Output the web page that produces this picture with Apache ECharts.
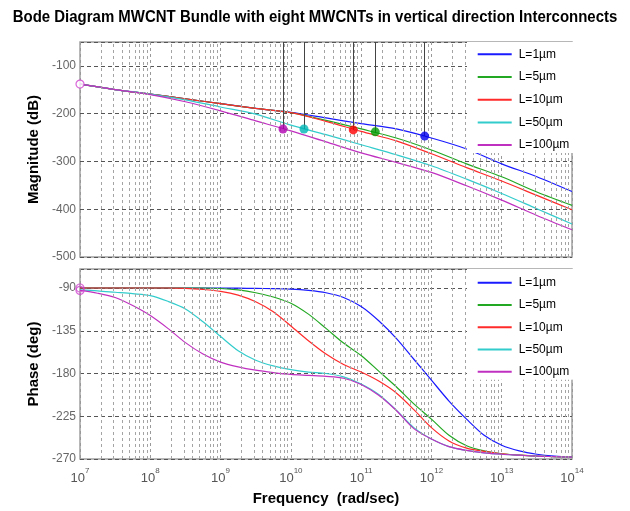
<!DOCTYPE html>
<html><head><meta charset="utf-8">
<script src="https://cdn.jsdelivr.net/npm/echarts@6.0.0/dist/echarts.min.js"></script>
<style>html,body{margin:0;padding:0;background:#fff}#c{width:630px;height:511px}</style>
</head><body><div id="c"></div>
<script>
const titleText = 'Bode Diagram MWCNT Bundle with eight MWCNTs in vertical direction Interconnects';
const seriesNames = ['L=1\u00b5m','L=5\u00b5m','L=10\u00b5m','L=50\u00b5m','L=100\u00b5m'];
const lineColors = ['#1a1aff','#22a822','#ff2a2a','#33cccc','#c030c0'];
const markerColors = ['#0000ee','#009900','#ff0000','#00b5b5','#b000b0'];

// log10(frequency) sample positions
const magFreqExp = [7,7.5,8,8.5,9,9.5,10,10.5,11,11.5,12,12.5,13,13.5,14];
const magL1   = [-138,-149.5,-159,-169,-179,-189,-197,-209,-221,-232,-251,-274,-305,-332,-363];
const magL5   = [-138,-149.5,-159,-169,-179,-189,-198,-214,-232,-251,-276,-305,-332,-364,-392];
const magL10  = [-138,-149.5,-159,-169,-179,-189,-198,-216,-237,-257,-284,-313,-341,-371,-401];
const magL50  = [-138,-149.5,-159,-171,-186,-201,-224,-244,-265,-286,-309,-337,-367,-399,-431];
const magL100 = [-138,-149.5,-160,-175,-194,-215,-236,-259,-282,-302,-323,-351,-381,-413,-443];

const phaseFreqExp = [7,7.25,7.5,7.75,8,8.25,8.5,8.75,9,9.25,9.5,9.75,10,10.25,10.5,10.75,11,11.25,11.5,11.75,12,12.25,12.5,12.75,13,13.25,13.5,13.75,14];
const phaseL1   = [-90,-90,-90,-90,-90,-90,-90,-90,-90,-90.2,-90.4,-90.7,-91.2,-92.5,-95,-100,-109.5,-124.5,-143,-165,-187,-209,-228,-245,-255.5,-261.5,-265,-267,-268];
const phaseL5   = [-90,-90,-90,-90,-90,-90,-90,-90,-90.5,-92,-95,-99.5,-106,-117.5,-132.5,-148,-161,-177.5,-194,-212,-228,-245,-256,-261.5,-264.5,-266,-267,-267.5,-268];
const phaseL10  = [-90,-90,-90,-90,-90,-90,-90.3,-91.5,-93.5,-97.5,-104.5,-115,-130,-145.5,-159.5,-170.5,-178.5,-188,-200.5,-218,-237,-251,-258.5,-262,-264.5,-266,-267,-267.5,-268];
const phaseL50  = [-92,-93,-94.5,-96,-98,-104,-112,-125.5,-141,-156,-166,-172,-176,-178.5,-180,-183.5,-191,-202,-218.5,-237,-249,-257,-261,-263.5,-265,-266,-267,-267.5,-268];
const phaseL100 = [-92.5,-95.5,-100,-108.5,-119,-132.5,-147.5,-159.5,-168,-173,-176.5,-179,-181,-182,-183,-185,-191.5,-203,-219,-238,-249,-257,-261,-263.5,-265,-266,-267,-267.5,-268];

// characteristic points (filled markers) per series
const markerFreqExp = [11.904, 11.201, 10.888, 10.187, 9.888];
const markerMag = [-247, -238, -234, -232, -232];
// open circles at start
const startFreqExp = 7;
const startMag = -138;
const startPhase = [-90, -92.5];

const magRange = [-500, -50];
const phaseRange = [-270, -70];
const freqRange = [7, 14];

const magData = [magL1, magL5, magL10, magL50, magL100];
const phaseData = [phaseL1, phaseL5, phaseL10, phaseL50, phaseL100];

const chart = echarts.init(document.getElementById('c'), null, {renderer:'canvas'});

const minorPos = [];
for (let n = freqRange[0]; n < freqRange[1]; n++) for (let k = 2; k <= 9; k++) minorPos.push(n + Math.log10(k));

const SANS = "'Liberation Sans',Arial,sans-serif";

function xAxisCfg(idx, showLabels) {
  return {
    type:'value', gridIndex: idx, min: freqRange[0], max: freqRange[1], interval: 1,
    axisLine:{show:false}, axisTick:{show:false},
    splitLine:{show:true, lineStyle:{color:'#999', width:1, type:[3,3]}},
    axisLabel: showLabels ? {
      show:true, margin: 8,
      formatter: v => Number.isInteger(v) ? '{b|10}{e|' + v + '}' : '',
      rich: {
        b:{fontFamily:SANS, fontSize:13, color:'#555', lineHeight:18, verticalAlign:'bottom'},
        e:{fontFamily:SANS, fontSize:8, color:'#555', lineHeight:10, verticalAlign:'top'}
      }
    } : {show:false},
    name: showLabels ? 'Frequency  (rad/sec)' : '',
    nameLocation:'middle', nameGap: 32,
    nameTextStyle:{fontFamily:SANS, fontWeight:'bold', fontSize:15, color:'#000'}
  };
}
function yAxisCfg(idx, range, interval, name, step) {
  return {
    type:'value', gridIndex: idx, min: range[0], max: range[1], interval: interval,
    axisLine:{show:false}, axisTick:{show:false},
    splitLine:{show:true, lineStyle:{color:'#555', width:1, type:[4,3]}},
    axisLabel:{show:true, margin:4, fontFamily:SANS, fontSize:12, color:'#666',
      formatter: v => (v % step === 0 ? String(v) : '')},
    name: name, nameLocation:'middle', nameGap: 32,
    nameTextStyle:{fontFamily:SANS, fontWeight:'bold', fontSize:15, color:'#000'}
  };
}

const series = [];
// minor grid line carriers
[0,1].forEach(g => {
  series.push({
    type:'line', xAxisIndex:g, yAxisIndex:g, data:[], z:1, silent:true,
    markLine:{silent:true, symbol:'none', animation:false, label:{show:false},
      lineStyle:{color:'#a4a4a4', width:1, type:[3,3]},
      data: minorPos.map(p => ({xAxis:p}))}
  });
});
for (let i = 0; i < 5; i++) {
  series.push({
    type:'line', name: seriesNames[i], xAxisIndex:0, yAxisIndex:0,
    data: magFreqExp.map((x,j) => [x, magData[i][j]]),
    symbol:'none', showSymbol:false, smooth:0.3, z:3,
    lineStyle:{color: lineColors[i], width:1.2}, itemStyle:{color: lineColors[i]}
  });
}
for (let i = 0; i < 5; i++) {
  series.push({
    type:'line', name: seriesNames[i], xAxisIndex:1, yAxisIndex:1,
    data: phaseFreqExp.map((x,j) => [x, phaseData[i][j]]),
    symbol:'none', showSymbol:false, smooth:0.3, z:3,
    lineStyle:{color: lineColors[i], width:1.2}, itemStyle:{color: lineColors[i]}
  });
}
// filled markers with vertical lines to the top
series.push({
  type:'scatter', name:'peaks', xAxisIndex:0, yAxisIndex:0, z:6,
  symbol:'circle', symbolSize:9,
  data: markerFreqExp.map((x,i) => ({value:[x, markerMag[i]], itemStyle:{color: markerColors[i]}})),
  markLine:{silent:true, symbol:'none', animation:false, label:{show:false},
    lineStyle:{color:'#444', width:1, type:'solid'},
    data: markerFreqExp.map((x,i) => [{coord:[x, markerMag[i]]}, {coord:[x, magRange[1]]}])}
});
// open circles at start
series.push({
  type:'scatter', name:'startMag', xAxisIndex:0, yAxisIndex:0, z:6, clip:false,
  symbol:'circle', symbolSize:8,
  data:[[startFreqExp, startMag]],
  itemStyle:{color:'#fff', borderColor:'#d040d0', borderWidth:1.2}
});
series.push({
  type:'scatter', name:'startPhase', xAxisIndex:1, yAxisIndex:1, z:6, clip:false,
  symbol:'circle', symbolSize:8,
  data: startPhase.map(p => [startFreqExp, p]),
  itemStyle:{color:'rgba(255,255,255,0)', borderColor:'#d040d0', borderWidth:1.2}
});

function legendCfg(top, gap, padTop) {
  return {
    show:true, data: seriesNames, orient:'vertical', left:467, top: top, z:10,
    backgroundColor:'#fff', borderWidth:0,
    padding:[padTop, 5, 1, 10.7],
    icon:'rect', itemWidth:34, itemHeight:2, itemGap: gap,
    textStyle:{fontFamily:SANS, fontSize:12, color:'#000', lineHeight:14, padding:[0,0,0,2]},
    selectedMode:false
  };
}

const option = {
  animation:false,
  backgroundColor:'#fff',
  graphic:[{
    type:'text', x:315, y:18, scaleX:0.936, z:10,
    style:{text: titleText, fontFamily:SANS, fontWeight:'bold', fontSize:16, fill:'#000',
      align:'center', verticalAlign:'middle'}
  }],
  grid:[
    {left:80, top:42, width:492, height:215, show:true, borderColor:'#a0a0a0', borderWidth:1.5, backgroundColor:'transparent'},
    {left:80, top:269, width:492, height:190, show:true, borderColor:'#a0a0a0', borderWidth:1.5, backgroundColor:'transparent'}
  ],
  xAxis:[xAxisCfg(0,false), xAxisCfg(1,true)],
  yAxis:[yAxisCfg(0, magRange, 100, 'Magnitude (dB)', 100), yAxisCfg(1, phaseRange, 45, 'Phase (deg)', 45)],
  legend:[legendCfg(42, 8.7, 5.3), legendCfg(269, 8.25, 6.7)],
  series: series
};
chart.setOption(option);
</script>
</body></html>
